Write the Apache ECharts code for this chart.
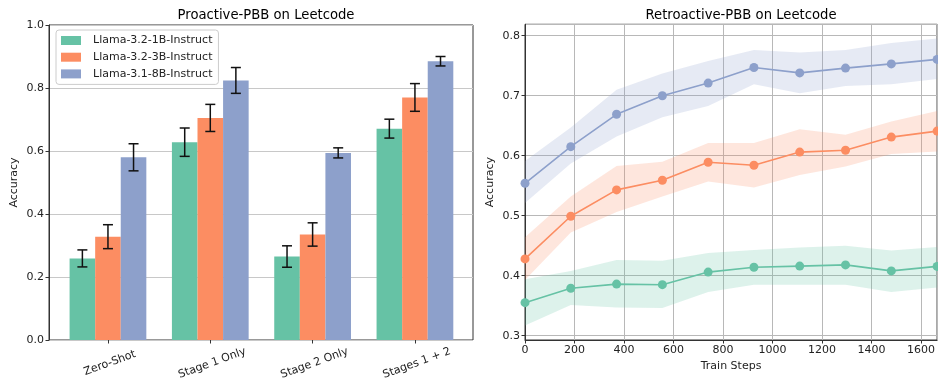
<!DOCTYPE html>
<html><head><meta charset="utf-8">
<script src="https://cdn.jsdelivr.net/npm/echarts@6/dist/echarts.min.js"></script>
<style>html,body{margin:0;padding:0;background:#fff}#c{width:938px;height:383px}</style>
</head><body><div id="c"></div>
<script>
// ---- Left chart data: Proactive-PBB on Leetcode ----
const categories = ['Zero-Shot', 'Stage 1 Only', 'Stage 2 Only', 'Stages 1 + 2'];
const models = ['Llama-3.2-1B-Instruct', 'Llama-3.2-3B-Instruct', 'Llama-3.1-8B-Instruct'];
const acc1B = [0.259, 0.628, 0.265, 0.671];
const err1B = [0.027, 0.045, 0.034, 0.030];
const acc3B = [0.328, 0.705, 0.335, 0.770];
const err3B = [0.038, 0.043, 0.037, 0.044];
const acc8B = [0.580, 0.824, 0.594, 0.885];
const err8B = [0.043, 0.041, 0.016, 0.015];

// ---- Right chart data: Retroactive-PBB on Leetcode ----
const trainSteps = [0, 185, 370, 555, 740, 925, 1110, 1295, 1480, 1665];
const retro1B   = [0.355, 0.379, 0.386, 0.385, 0.406, 0.414, 0.416, 0.418, 0.408, 0.4155];
const retro1BLo = [0.317, 0.351, 0.347, 0.346, 0.373, 0.385, 0.385, 0.385, 0.373, 0.3805];
const retro1BHi = [0.394, 0.408, 0.426, 0.425, 0.438, 0.443, 0.447, 0.450, 0.442, 0.448];
const retro3B   = [0.428, 0.499, 0.543, 0.559, 0.589, 0.584, 0.606, 0.609, 0.631, 0.641];
const retro3BLo = [0.393, 0.472, 0.506, 0.532, 0.557, 0.547, 0.568, 0.582, 0.603, 0.607];
const retro3BHi = [0.464, 0.532, 0.583, 0.590, 0.621, 0.621, 0.644, 0.635, 0.657, 0.6745];
const retro8B   = [0.554, 0.615, 0.669, 0.700, 0.721, 0.747, 0.738, 0.746, 0.753, 0.7605];
const retro8BLo = [0.521, 0.587, 0.632, 0.664, 0.683, 0.719, 0.704, 0.716, 0.719, 0.7278];
const retro8BHi = [0.591, 0.647, 0.710, 0.737, 0.758, 0.776, 0.772, 0.776, 0.788, 0.7955];

const colors = ['#66c2a5', '#fc8d62', '#8da0cb'];
const FONT = 'DejaVu Sans';
const txt = '#222';

const accs = [acc1B, acc3B, acc8B];
const errs = [err1B, err3B, err8B];
const retroMeans = [retro1B, retro3B, retro8B];
const retroLos = [retro1BLo, retro3BLo, retro8BLo];
const retroHis = [retro1BHi, retro3BHi, retro8BHi];

const series = [];
// bars
models.forEach((m, k) => {
  series.push({
    name: m, type: 'bar', xAxisIndex: 1, yAxisIndex: 1,
    data: accs[k], barWidth: '25%', barGap: '0%',
    itemStyle: { color: colors[k] }, z: 3
  });
});
// error bars
models.forEach((m, k) => {
  series.push({
    type: 'custom', xAxisIndex: 1, yAxisIndex: 1, z: 5, silent: true,
    data: accs[k].map((v, i) => [i, v, errs[k][i]]),
    renderItem: function (params, api) {
      const i = api.value(0), v = api.value(1), e = api.value(2);
      const band = api.size([1, 0])[0];
      const off = (k - 1) * band * 0.25;
      const top = api.coord([i, v + e]);
      const bot = api.coord([i, v - e]);
      const x = top[0] + off;
      const cap = 5;
      const st = { stroke: '#111', lineWidth: 1.5 };
      return { type: 'group', children: [
        { type: 'line', shape: { x1: x, y1: top[1], x2: x, y2: bot[1] }, style: st },
        { type: 'line', shape: { x1: x - cap, y1: top[1], x2: x + cap, y2: top[1] }, style: st },
        { type: 'line', shape: { x1: x - cap, y1: bot[1], x2: x + cap, y2: bot[1] }, style: st }
      ]};
    }
  });
});
// right: confidence bands (polygon through the axis scales)
models.forEach((m, k) => {
  series.push({
    type: 'custom', xAxisIndex: 2, yAxisIndex: 2, z: 1, silent: true, clip: true,
    data: trainSteps.map((x, i) => [x, retroLos[k][i], retroHis[k][i]]),
    encode: { x: 0, y: [1, 2] },
    renderItem: function (params, api) {
      if (params.dataIndex !== 0) return null;
      const pts = [];
      for (let i = 0; i < trainSteps.length; i++) pts.push(api.coord([trainSteps[i], retroHis[k][i]]));
      for (let i = trainSteps.length - 1; i >= 0; i--) pts.push(api.coord([trainSteps[i], retroLos[k][i]]));
      return { type: 'polygon', shape: { points: pts }, style: { fill: colors[k], opacity: 0.22 } };
    }
  });
});
// right: mean lines
models.forEach((m, k) => {
  series.push({
    type: 'line', xAxisIndex: 2, yAxisIndex: 2, symbol: 'circle', symbolSize: 9,
    data: trainSteps.map((x, i) => [x, retroMeans[k][i]]),
    lineStyle: { color: colors[k], width: 1.6 }, itemStyle: { color: colors[k] }, z: 4
  });
});

const axisLbl = { color: txt, fontFamily: FONT, fontSize: 11 };
const nameStyle = { fontFamily: FONT, fontSize: 11, color: txt };

const option = {
  animation: false,
  textStyle: { fontFamily: FONT },
  title: [
    { text: 'Proactive-PBB on Leetcode', left: 261, top: 4, textAlign: 'center',
      textStyle: { fontFamily: FONT, fontSize: 13.2, fontWeight: 'normal', color: '#000' } },
    { text: 'Retroactive-PBB on Leetcode', left: 736, top: 4, textAlign: 'center',
      textStyle: { fontFamily: FONT, fontSize: 13.2, fontWeight: 'normal', color: '#000' } }
  ],
  legend: {
    data: models, orient: 'vertical', left: 56, top: 30,
    itemWidth: 20, itemHeight: 9, itemGap: 3.7, icon: 'rect',
    padding: [4, 6, 4, 5],
    backgroundColor: 'rgba(255,255,255,0.8)', borderColor: '#ccc', borderWidth: 1, borderRadius: 3,
    textStyle: { fontFamily: FONT, fontSize: 11, color: txt, lineHeight: 13, padding: [0, 0, 0, 7] }
  },
  grid: [
    { left: 49, top: 25, width: 424, bottom: 43, show: true, borderColor: '#333', borderWidth: 1, backgroundColor: 'transparent' },
    { left: 56.8, top: 25, width: 409.3, bottom: 43 },
    { left: 525, top: 24.3, right: -9, bottom: 43, show: true, borderColor: '#333', borderWidth: 1, backgroundColor: 'transparent' }
  ],
  xAxis: [
    { gridIndex: 0, type: 'value', show: false, min: 0, max: 1 },
    { gridIndex: 1, type: 'category', data: categories,
      axisLine: { show: false },
      axisTick: { show: true, alignWithLabel: true, length: 3.5, lineStyle: { color: '#333' } },
      axisLabel: Object.assign({ rotate: 20, margin: 18, interval: 0, align: 'center', verticalAlign: 'top' }, axisLbl),
      splitLine: { show: false } },
    { gridIndex: 2, type: 'value', min: 0, max: 1665, interval: 200,
      name: 'Train Steps', nameLocation: 'middle', nameGap: 21, nameTextStyle: nameStyle,
      axisLine: { show: true, lineStyle: { color: '#333' } },
      axisTick: { show: true, length: 3.5, lineStyle: { color: '#333' } },
      axisLabel: Object.assign({ margin: 5, showMaxLabel: false, formatter: v => String(v) }, axisLbl),
      splitLine: { show: true, lineStyle: { color: '#b8b8b8', width: 1 } } }
  ],
  yAxis: [
    { gridIndex: 0, type: 'value', min: 0, max: 1, interval: 0.2,
      name: 'Accuracy', nameLocation: 'middle', nameGap: 29, nameTextStyle: nameStyle,
      axisLine: { show: true, lineStyle: { color: '#333' } },
      axisTick: { show: true, length: 3.5, lineStyle: { color: '#333' } },
      axisLabel: Object.assign({ margin: 5, formatter: v => v.toFixed(1) }, axisLbl),
      splitLine: { show: true, lineStyle: { color: '#c8c8c8', width: 1 } } },
    { gridIndex: 1, type: 'value', min: 0, max: 1, show: false, splitLine: { show: false } },
    { gridIndex: 2, type: 'value', min: 0.2928, max: 0.819, minInterval: 0.1, maxInterval: 0.1,
      name: 'Accuracy', nameLocation: 'middle', nameGap: 29, nameTextStyle: nameStyle,
      axisLine: { show: true, lineStyle: { color: '#333' } },
      axisTick: { show: true, length: 3.5, lineStyle: { color: '#333' } },
      axisLabel: Object.assign({ margin: 5, showMinLabel: false, showMaxLabel: false, formatter: v => v.toFixed(1) }, axisLbl),
      splitLine: { show: true, lineStyle: { color: '#b8b8b8', width: 1 } } }
  ],
  series: series
};

const chart = echarts.init(document.getElementById('c'), null, { renderer: 'canvas' });
chart.setOption(option);
</script>
</body></html>
